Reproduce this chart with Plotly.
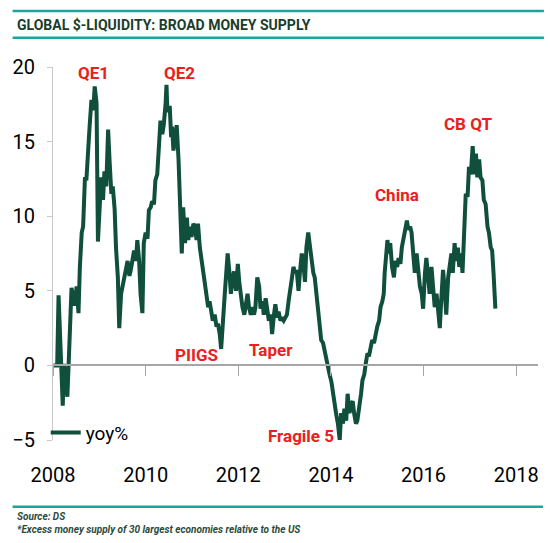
import plotly.graph_objects as go

# decimal years and yoy% values
years = [
 2008.01,2008.09,2008.12,2008.16,2008.19,2008.21,2008.24,2008.28,2008.31,2008.34,
 2008.37,2008.40,2008.44,2008.47,2008.51,2008.55,2008.58,2008.62,2008.65,2008.69,
 2008.72,2008.76,2008.79,2008.83,2008.87,2008.90,2008.94,2008.97,2009.01,2009.04,
 2009.08,2009.11,2009.15,2009.19,2009.22,2009.26,2009.29,2009.33,2009.36,2009.40,
 2009.43,2009.47,2009.54,2009.61,2009.65,2009.68,2009.75,2009.79,2009.82,2009.86,
 2009.89,2009.93,2009.96,2010.00,2010.04,2010.07,2010.11,2010.14,2010.18,2010.21,
 2010.25,2010.28,2010.32,2010.36,2010.39,2010.43,2010.45,2010.47,2010.52,2010.55,
 2010.57,2010.60,2010.64,2010.67,2010.71,2010.74,2010.78,2010.81,2010.85,2010.89,
 2010.92,2010.96,2010.99,2011.03,2011.06,2011.10,2011.13,2011.17,2011.21,2011.24,
 2011.28,2011.31,2011.35,2011.38,2011.42,2011.45,2011.49,2011.53,2011.56,2011.60,
 2011.63,2011.67,2011.70,2011.74,2011.77,2011.81,2011.84,2011.88,2011.91,2011.95,
 2011.99,2012.02,2012.06,2012.09,2012.13,2012.16,2012.20,2012.23,2012.27,2012.30,
 2012.34,2012.37,2012.41,2012.45,2012.48,2012.52,2012.55,2012.59,2012.62,2012.66,
 2012.70,2012.73,2012.77,2012.80,2012.84,2012.87,2012.91,2012.94,2012.98,2013.01,
 2013.05,2013.09,2013.12,2013.16,2013.19,2013.23,2013.26,2013.30,2013.33,2013.37,
 2013.40,2013.44,2013.47,2013.51,2013.55,2013.58,2013.62,2013.65,2013.69,2013.72,
 2013.76,2013.79,2013.83,2013.86,2013.90,2013.94,2013.97,2014.01,2014.04,2014.08,
 2014.11,2014.15,2014.19,2014.22,2014.26,2014.29,2014.33,2014.36,2014.40,2014.43,
 2014.47,2014.50,2014.54,2014.57,2014.61,2014.65,2014.68,2014.72,2014.75,2014.79,
 2014.82,2014.86,2014.89,2014.93,2014.96,2015.00,2015.04,2015.07,2015.11,2015.14,
 2015.16,2015.19,2015.22,2015.25,2015.28,2015.32,2015.36,2015.39,2015.43,2015.46,
 2015.50,2015.53,2015.57,2015.60,2015.64,2015.67,2015.71,2015.74,2015.78,2015.81,
 2015.85,2015.89,2015.92,2015.96,2015.99,2016.03,2016.06,2016.10,2016.13,2016.17,
 2016.21,2016.24,2016.28,2016.31,2016.35,2016.38,2016.42,2016.45,2016.49,2016.53,
 2016.56,2016.60,2016.63,2016.67,2016.70,2016.74,2016.77,2016.81,2016.84,2016.88,
 2016.91,2016.95,2016.98,2017.02,2017.06,2017.09,2017.13,2017.16,2017.20,2017.23,
 2017.27,2017.30,2017.34,2017.38,2017.41,2017.45,2017.48,2017.51,2017.55,
]
yoy = [
 0.0,0.0,4.7,1.5,-2.1,-2.7,0.1,-1.0,-2.1,0.3,
 2.6,5.2,4.5,4.0,5.3,3.5,6.6,8.9,9.3,12.6,
 12.4,14.9,16.0,17.8,17.1,18.7,17.6,8.3,11.1,12.6,
 11.1,13.0,12.0,15.8,13.8,11.5,12.0,10.5,7.9,5.9,
 2.5,4.8,5.9,7.0,6.0,6.4,7.7,7.0,8.4,7.0,
 4.8,3.5,8.2,8.9,8.5,10.4,10.6,11.0,10.8,12.4,
 12.8,14.4,16.4,15.5,16.1,17.5,18.8,17.0,17.4,15.3,
 16.0,14.4,15.3,16.1,13.8,11.5,7.5,10.6,8.2,9.9,
 8.4,9.3,8.6,9.5,9.3,8.4,9.5,7.9,7.0,6.2,
 5.3,4.8,3.9,4.3,3.4,3.0,3.4,2.6,2.8,2.1,
 1.1,2.6,4.4,6.2,7.5,6.2,4.8,5.9,6.3,5.0,
 6.8,5.6,4.6,3.9,3.4,3.9,4.8,3.9,3.4,3.9,
 3.4,3.9,5.9,5.3,3.8,4.3,3.4,4.5,3.9,3.0,
 3.4,2.1,3.4,4.1,3.2,3.6,3.0,3.2,3.0,3.2,
 3.4,4.4,5.3,5.9,6.6,6.2,6.4,5.0,6.2,7.5,
 7.0,5.6,7.9,8.9,7.9,7.0,6.2,5.9,4.8,3.5,
 2.6,1.7,1.5,1.0,0.3,-0.1,-0.6,-1.1,-1.9,-2.5,
 -3.2,-3.9,-5.0,-3.2,-3.9,-2.9,-3.7,-1.9,-3.2,-2.6,
 -2.4,-3.2,-3.9,-3.7,-2.9,-1.9,-1.0,-0.6,0.1,0.8,
 0.6,1.2,1.7,1.5,2.1,2.6,3.0,3.9,4.3,4.8,
 6.2,7.9,8.4,7.5,8.2,6.6,5.9,7.0,6.6,7.2,
 6.8,7.9,8.6,8.9,9.7,9.1,9.3,8.9,7.5,6.2,
 7.5,6.2,5.3,4.8,3.8,6.2,7.2,5.9,4.8,6.6,
 4.8,3.9,4.8,3.4,2.5,4.3,6.4,5.3,3.4,5.9,
 6.8,7.5,6.2,8.2,7.0,7.9,6.6,7.5,6.2,9.3,
 11.5,11.3,13.3,12.8,14.7,12.8,14.2,12.6,13.8,12.6,
 12.4,11.1,10.8,9.3,8.9,7.9,7.7,6.2,3.8,
]

tick_years = [2008, 2010, 2012, 2014, 2016, 2018]
tick_labels = ["2008", "2010", "2012", "2014", "2016", "2018"]
y_ticks = [-5, 0, 5, 10, 15, 20]

event_labels = ["QE1", "QE2", "PIIGS", "Taper", "Fragile 5", "China", "CB QT"]
event_x = [2008.88, 2010.72, 2011.09, 2012.70, 2013.35, 2015.43, 2016.98]
event_y = [19.6, 19.6, 0.67, 1.0, -4.7, 11.4, 16.2]

FONT = "Roboto, sans-serif"
LINE = "#0f4f3c"
TEAL = "#17a89b"
RED = "#e8211c"
XR = [2008, 2018.47]

fig = go.Figure()
fig.add_trace(go.Scatter(x=years, y=yoy, mode="lines", name="yoy%",
                         line=dict(color=LINE, width=4)))

fig.update_layout(
    width=550, height=543,
    margin=dict(l=46, r=12, t=67, b=103),
    paper_bgcolor="white", plot_bgcolor="white",
    font=dict(family=FONT, color="black"),
    showlegend=True,
    legend=dict(x=-0.015, y=0.02, xanchor="left", yanchor="middle",
                bgcolor="rgba(0,0,0,0)", font=dict(size=19, color="black"),
                itemwidth=30, tracegroupgap=0),
    xaxis=dict(range=XR, tickvals=tick_years, ticktext=tick_labels,
               showgrid=False, zeroline=False, showline=False,
               ticks="", ticklabelstandoff=21,
               tickfont=dict(size=20, color="black")),
    xaxis2=dict(range=XR, overlaying="x", anchor="free", position=0.2,
                tickvals=tick_years, showticklabels=False,
                showgrid=False, zeroline=False, showline=True,
                linecolor="#a6a6a6", linewidth=1.5,
                ticks="outside", ticklen=10, tickcolor="#a6a6a6", tickwidth=1),
    yaxis=dict(range=[-5, 20], tickvals=y_ticks, showgrid=False,
               zeroline=False, showline=True, linecolor="#c8c8c8", linewidth=1,
               ticks="outside", ticklen=5, tickcolor="#c8c8c8",
               ticklabelstandoff=8, tickfont=dict(size=20, color="black")),
)
# invisible carrier so the zero-level axis is drawn
fig.add_trace(go.Scatter(x=[None], y=[None], xaxis="x2", showlegend=False,
                         hoverinfo="skip"))

for t, xv, yv in zip(event_labels, event_x, event_y):
    fig.add_annotation(x=xv, y=yv, text="<b>" + t + "</b>", showarrow=False,
                       font=dict(size=17, color=RED, family=FONT),
                       xanchor="center", yanchor="middle")

# header / footer decoration
for yy, x1 in [(1.150, 1.0122), (1.0786, 1.0122), (-0.1788, 1.0102)]:
    fig.add_shape(type="line", xref="paper", yref="paper", x0=-0.0833, x1=x1,
                  y0=yy, y1=yy, line=dict(color=TEAL, width=2.5))

fig.add_annotation(xref="paper", yref="paper", x=-0.0793, y=1.1126,
                   xanchor="left", yanchor="middle", showarrow=False,
                   text="<b>GLOBAL $-LIQUIDITY: BROAD MONEY SUPPLY</b>",
                   font=dict(size=14, color="#1a3d2b", family=FONT))
fig.add_annotation(xref="paper", yref="paper", x=-0.0793, y=-0.2063,
                   xanchor="left", yanchor="middle", showarrow=False,
                   text="<b><i>Source: DS</i></b>",
                   font=dict(size=10, color="#2d4a3c", family=FONT))
fig.add_annotation(xref="paper", yref="paper", x=-0.0793, y=-0.2398,
                   xanchor="left", yanchor="middle", showarrow=False,
                   text="<b><i>*Excess money supply of 30 largest economies relative to the US</i></b>",
                   font=dict(size=10, color="#2d4a3c", family=FONT))

fig.write_html("out.html", config={"displayModeBar": False},
               post_script="document.body.style.margin='0px';document.body.style.overflow='hidden';")
